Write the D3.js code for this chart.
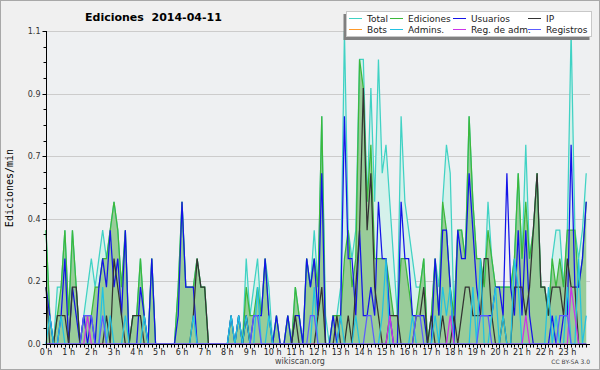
<!DOCTYPE html>
<html>
<head>
<meta charset="utf-8">
<script src="https://cdn.jsdelivr.net/npm/d3@7"></script>
<style>
  body { margin: 0; background: #f0f0f0; }
  svg { display: block; font-family: "DejaVu Sans", sans-serif; }
</style>
</head>
<body>
<div id="chart"></div>
<script>
// Edits counted per 10-minute bin (144 bins, 0:00 .. 23:50); plotted as edits/min
const total = [
  4,1,0,2,2,4,1,4,2,0,1,2,  3,2,3,4,3,4,5,4,2,4,0,1,
  1,3,1,0,3,0,0,0,0,0,0,2,  5,2,2,2,3,2,2,0,0,0,0,0,
  0,1,0,1,0,3,1,2,3,1,3,2,  0,1,0,0,1,0,2,1,0,3,2,4,
  2,8,1,0,1,1,2,11,4,3,4,10, 10,5,9,5,10,6,7,5,3,1,8,5,
  4,3,2,2,3,0,1,3,2,5,7,6,  1,4,4,3,8,5,3,3,2,5,3,2,
  2,2,2,2,3,6,3,7,3,4,6,2,  2,1,3,4,4,2,4,11,4,3,4,6
];
const ediciones = [
  4,1,0,1,2,4,1,4,2,0,1,1,  1,2,2,3,3,4,5,4,2,4,0,1,
  1,3,1,0,3,0,0,0,0,0,0,2,  5,2,2,2,3,2,2,0,0,0,0,0,
  0,1,0,1,0,2,1,1,2,1,3,1,  0,1,0,0,1,0,2,1,0,3,2,3,
  2,8,0,0,1,1,1,3,4,2,3,10, 9,5,7,3,3,3,3,2,1,1,3,3,
  2,1,1,2,3,0,1,3,1,5,4,2,  1,4,4,3,8,5,3,3,2,4,3,2,
  2,2,2,2,3,6,3,5,3,4,6,2,  2,1,3,2,3,2,4,4,4,2,3,5
];
const usuarios = [
  2,1,0,0,1,3,0,2,1,0,1,0,  1,0,2,3,2,4,2,3,1,4,0,0,
  0,2,1,0,3,0,0,0,0,0,0,1,  5,2,2,2,0,0,0,0,0,0,0,0,
  0,1,0,1,0,1,0,1,1,1,3,1,  0,1,0,0,1,0,1,1,0,3,2,3,
  1,6,0,0,1,0,1,8,3,3,1,4,  1,1,2,1,5,3,3,1,0,0,5,3,
  3,1,1,1,1,0,0,3,1,4,4,2,  0,4,3,3,6,4,2,1,1,1,1,2,
  2,1,6,2,1,4,1,4,1,0,0,0,  0,0,1,0,0,1,1,7,2,2,3,5
];
const ip = [
  2,0,0,1,1,1,0,2,2,0,0,0,  0,0,0,0,1,0,3,2,1,0,0,1,
  1,1,0,0,0,0,0,0,0,0,0,0,  0,0,0,1,3,2,2,0,0,0,0,0,
  0,0,0,0,0,1,0,0,0,0,0,0,  0,0,0,0,0,0,1,0,0,0,0,0,
  1,2,0,0,0,1,0,0,1,0,2,4,  9,4,6,2,1,0,0,1,1,1,0,0,
  0,0,1,1,2,0,1,0,0,1,0,0,  1,0,1,2,2,1,1,1,3,3,1,0,
  0,1,0,0,2,2,2,1,2,4,6,2,  2,1,2,2,2,1,3,2,2,0,0,0
];
const bots = [];
const admins = [
  0,1,0,0,1,0,0,0,0,0,0,0,  0,0,0,2,0,1,0,0,0,1,0,0,
  0,0,1,0,0,0,0,0,0,0,0,0,  0,0,0,1,0,0,0,0,0,0,0,0,
  0,1,0,1,0,1,0,0,2,0,0,1,  0,0,0,0,0,0,0,0,0,0,0,2,
  0,0,0,0,0,0,1,0,0,0,1,0,  0,0,0,0,0,1,3,0,0,0,0,0,
  0,1,0,0,0,0,0,1,0,2,1,2,  0,0,0,0,0,2,0,3,0,0,1,2,
  0,1,0,0,3,2,0,0,0,0,0,0,  0,2,0,1,0,0,2,0,0,3,0,1
];
const regAdm = [
  0,0,0,0,0,0,0,0,0,0,0,1,  0,0,0,0,0,0,0,0,0,0,0,0,
  0,0,0,0,0,0,0,0,0,0,0,0,  0,0,0,0,0,0,0,0,0,0,0,0,
  0,0,0,0,0,0,0,0,0,0,0,0,  0,0,0,0,0,0,0,0,0,0,0,0,
  0,0,0,0,0,0,0,0,0,0,0,0,  0,0,0,0,0,0,0,1,0,0,0,0,
  0,0,0,0,0,0,0,0,0,0,0,1,  0,0,0,0,0,0,0,0,0,0,0,0,
  0,0,0,0,0,0,0,1,0,0,0,0,  0,0,0,0,0,0,0,2,1,0,0,0
];
const registros = [
  0,0,0,0,0,0,0,0,0,0,1,1,  1,0,0,1,0,0,0,0,0,0,0,0,
  0,0,0,0,0,0,0,0,0,0,0,0,  0,0,0,0,0,0,0,0,0,0,0,0,
  0,0,0,0,0,0,0,1,1,0,0,0,  0,0,0,0,0,0,0,0,0,0,1,1,
  0,0,0,0,0,0,0,0,0,0,0,0,  0,1,1,0,0,0,0,0,0,0,0,0,
  0,0,1,1,0,0,0,0,0,0,0,0,  0,0,0,0,0,0,0,1,1,1,0,0,
  0,0,0,0,0,0,0,0,0,0,0,0,  0,0,0,0,1,1,1,0,0,0,0,0
];

const hourLabels = ["0 h","1 h","2 h","3 h","4 h","5 h","6 h","7 h","8 h","9 h","10 h","11 h",
  "12 h","13 h","14 h","15 h","16 h","17 h","18 h","19 h","20 h","21 h","22 h","23 h"];
const yTicks = [0, 2.2, 4.4, 6.6, 8.8, 11];   // edits per 10 min
const yTickLabels = ["0.0", "0.2", "0.4", "0.7", "0.9", "1.1"];

class EditsChart {
  constructor(_parentElement) {
    this.parentElement = _parentElement;
    this.initVis();
  }

  initVis() {
    const vis = this;
    vis.W = 600;
    vis.H = 370;
    vis.MARGIN = { LEFT: 46, RIGHT: 10, TOP: 31, BOTTOM: 26 };

    vis.svg = d3.select(vis.parentElement).append("svg")
      .attr("width", vis.W)
      .attr("height", vis.H);

    vis.svg.append("rect")
      .attr("x", 0.5).attr("y", 0.5)
      .attr("width", vis.W - 1).attr("height", vis.H - 1)
      .attr("fill", "#f0f0f0")
      .attr("stroke", "#a8a8a8");

    vis.x = d3.scaleLinear().domain([0, 24])
      .range([vis.MARGIN.LEFT, vis.W - vis.MARGIN.RIGHT]);
    vis.y = d3.scaleLinear().domain([0, 11])
      .range([vis.H - vis.MARGIN.BOTTOM, vis.MARGIN.TOP]);

    vis.svg.append("rect")
      .attr("x", vis.x(0)).attr("y", vis.y(11))
      .attr("width", vis.x(24) - vis.x(0))
      .attr("height", vis.y(0) - vis.y(11))
      .attr("fill", "#eef0f2");

    // grid lines
    vis.svg.append("g").selectAll("line")
      .data(yTicks.slice(1))
      .enter().append("line")
      .attr("x1", vis.x(0)).attr("x2", vis.x(24))
      .attr("y1", d => Math.round(vis.y(d)) + 0.5)
      .attr("y2", d => Math.round(vis.y(d)) + 0.5)
      .attr("stroke", "#cccccc");

    vis.series = [
      { name: "Total", data: total, color: "#40d2c4", fill: "#d5f1eb" },
      { name: "Ediciones", data: ediciones, color: "#3cb83c", fill: "#99cc99" },
      { name: "Usuarios", data: usuarios, color: "#1414e8" },
      { name: "IP", data: ip, color: "#333333" },
      { name: "Bots", data: bots, color: "#ff9a2a" },
      { name: "Admins.", data: admins, color: "#22c2e2" },
      { name: "Reg. de adm.", data: regAdm, color: "#cc33e8" },
      { name: "Registros", data: registros, color: "#5c5cff" }
    ];

    vis.updateVis();
  }

  updateVis() {
    const vis = this;
    const xPos = (d, i) => vis.x(i / 6);

    const area = d3.area()
      .x(xPos)
      .y0(vis.y(0))
      .y1(d => vis.y(d));
    const line = d3.line()
      .x(xPos)
      .y(d => vis.y(d));

    const plot = vis.svg.append("g");

    vis.series.filter(s => s.fill).forEach(s => {
      plot.append("path")
        .attr("d", area(s.data))
        .attr("fill", s.fill);
    });

    vis.series.filter(s => s.data.length).forEach(s => {
      plot.append("path")
        .attr("d", line(s.data))
        .attr("fill", "none")
        .attr("stroke", s.color)
        .attr("stroke-width", 1.25);
    });

    // axes
    const y0 = Math.round(vis.y(0)) + 0.5;
    const x0 = Math.round(vis.x(0)) + 0.5;

    const axisG = vis.svg.append("g").attr("stroke", "#000");
    axisG.append("line")
      .attr("x1", x0).attr("x2", vis.x(24))
      .attr("y1", y0).attr("y2", y0);
    axisG.append("line")
      .attr("x1", x0).attr("x2", x0)
      .attr("y1", vis.y(11)).attr("y2", y0);

    // x ticks: one per 10 minutes, longer at the hours
    axisG.selectAll(".xtick")
      .data(d3.range(0, 144))
      .enter().append("line")
      .attr("class", "xtick")
      .attr("x1", d => Math.round(vis.x(d / 6)) + 0.5)
      .attr("x2", d => Math.round(vis.x(d / 6)) + 0.5)
      .attr("y1", y0)
      .attr("y2", d => y0 + (d % 6 === 0 ? 4 : 3));

    // y ticks: majors plus four-way minors
    axisG.selectAll(".ytick")
      .data(d3.range(0, 21))
      .enter().append("line")
      .attr("class", "ytick")
      .attr("x1", d => x0 - (d % 4 === 0 ? 4 : 3))
      .attr("x2", x0)
      .attr("y1", d => Math.round(vis.y(d * 0.55)) + 0.5)
      .attr("y2", d => Math.round(vis.y(d * 0.55)) + 0.5);

    vis.svg.append("g").selectAll("text")
      .data(hourLabels)
      .enter().append("text")
      .attr("x", (d, i) => vis.x(i))
      .attr("y", y0 + 10)
      .attr("text-anchor", "middle")
      .attr("font-size", "8px")
      .attr("fill", "#222")
      .text(d => d);

    vis.svg.append("g").selectAll("text")
      .data(yTicks)
      .enter().append("text")
      .attr("x", x0 - 6)
      .attr("y", d => vis.y(d) + 3)
      .attr("text-anchor", "end")
      .attr("font-size", "8px")
      .attr("fill", "#333")
      .text((d, i) => yTickLabels[i]);

    vis.svg.append("text")
      .attr("transform", `translate(13, 188) rotate(-90)`)
      .attr("text-anchor", "middle")
      .attr("font-family", "DejaVu Sans Mono, monospace")
      .attr("font-size", "10px")
      .attr("fill", "#000")
      .text("Ediciones/min");

    vis.svg.append("text")
      .attr("x", 85).attr("y", 21)
      .attr("font-weight", "bold")
      .attr("font-size", "11px")
      .style("white-space", "pre")
      .text("Ediciones  2014-04-11");

    vis.svg.append("text")
      .attr("x", 300).attr("y", 364)
      .attr("text-anchor", "middle")
      .attr("font-size", "8px")
      .attr("fill", "#444")
      .text("wikiscan.org");

    vis.svg.append("text")
      .attr("x", 590).attr("y", 364)
      .attr("text-anchor", "end")
      .attr("font-size", "6px")
      .attr("fill", "#444")
      .text("CC BY-SA 3.0");

    // legend
    const legendG = vis.svg.append("g");
    legendG.append("rect")
      .attr("x", 343.5).attr("y", 14)
      .attr("width", 246).attr("height", 26)
      .attr("fill", "#808080");
    legendG.append("rect")
      .attr("x", 346.5).attr("y", 11.5)
      .attr("width", 245).attr("height", 25)
      .attr("fill", "#fff")
      .attr("stroke", "#c8c8c8");

    const colX = [349, 390, 453, 528];
    const legend = legendG.selectAll(".legend")
      .data(vis.series)
      .enter().append("g")
      .attr("class", "legend")
      .attr("transform", (d, i) => `translate(${colX[i % 4]}, ${i < 4 ? 18.5 : 29.5})`);

    legend.append("line")
      .attr("x1", 0).attr("x2", 13)
      .attr("stroke", d => d.color)
      .attr("stroke-width", 1);

    legend.append("text")
      .attr("x", 18)
      .attr("y", 3.5)
      .attr("font-size", "9px")
      .attr("fill", "#222")
      .text(d => d.name);
  }
}

new EditsChart("#chart");
</script>
</body>
</html>
